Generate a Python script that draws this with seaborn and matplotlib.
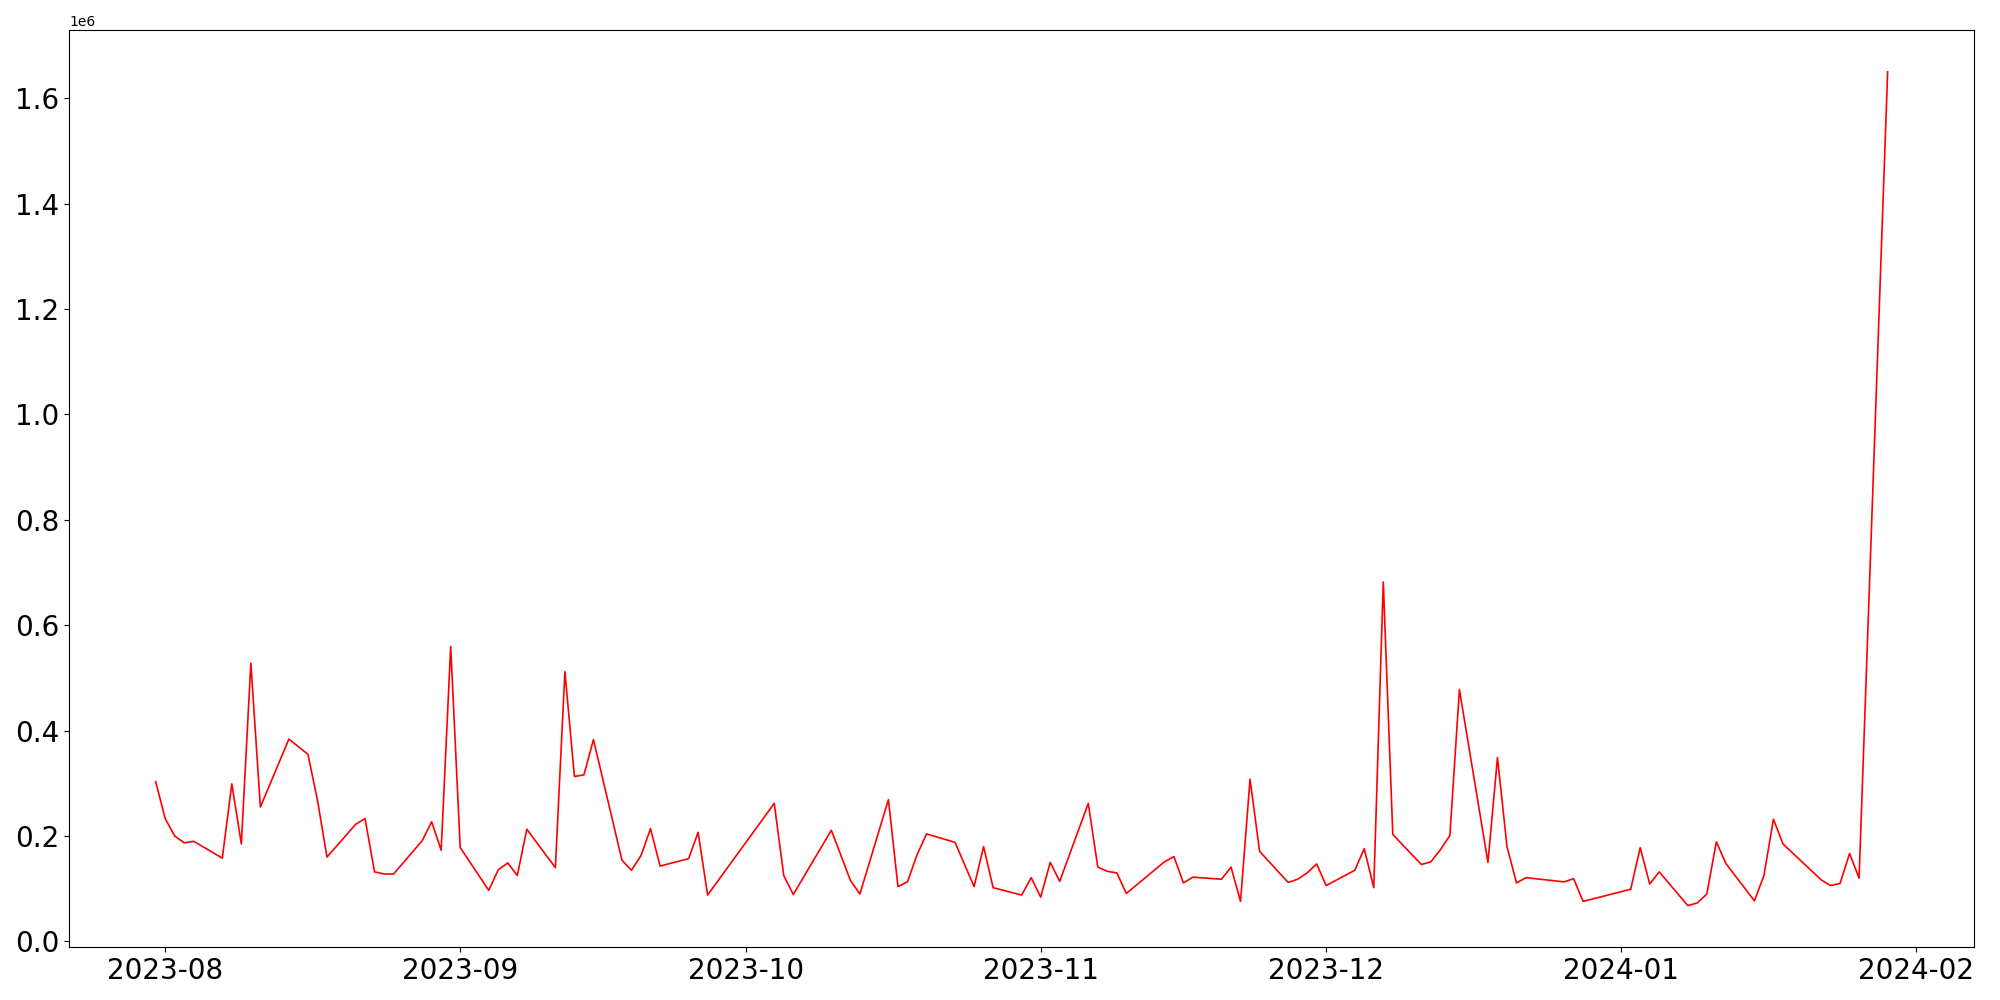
import matplotlib
matplotlib.use('Agg')
import matplotlib.pyplot as plt
import seaborn as sns
import pandas as pd

# trading days and daily totals
dates = [
    '2023-07-31', '2023-08-01', '2023-08-02', '2023-08-03', '2023-08-04',
    '2023-08-07', '2023-08-08', '2023-08-09', '2023-08-10', '2023-08-11',
    '2023-08-14', '2023-08-16', '2023-08-17', '2023-08-18',
    '2023-08-21', '2023-08-22', '2023-08-23', '2023-08-24', '2023-08-25',
    '2023-08-28', '2023-08-29', '2023-08-30', '2023-08-31', '2023-09-01',
    '2023-09-04', '2023-09-05', '2023-09-06', '2023-09-07', '2023-09-08',
    '2023-09-11', '2023-09-12', '2023-09-13', '2023-09-14', '2023-09-15',
    '2023-09-18', '2023-09-19', '2023-09-20', '2023-09-21', '2023-09-22',
    '2023-09-25', '2023-09-26', '2023-09-27',
    '2023-10-04', '2023-10-05', '2023-10-06',
    '2023-10-10', '2023-10-12', '2023-10-13',
    '2023-10-16', '2023-10-17', '2023-10-18', '2023-10-19', '2023-10-20',
    '2023-10-23', '2023-10-25', '2023-10-26', '2023-10-27',
    '2023-10-30', '2023-10-31', '2023-11-01', '2023-11-02', '2023-11-03',
    '2023-11-06', '2023-11-07', '2023-11-08', '2023-11-09', '2023-11-10',
    '2023-11-14', '2023-11-15', '2023-11-16', '2023-11-17',
    '2023-11-20', '2023-11-21', '2023-11-22', '2023-11-23', '2023-11-24',
    '2023-11-27', '2023-11-28', '2023-11-29', '2023-11-30', '2023-12-01',
    '2023-12-04', '2023-12-05', '2023-12-06', '2023-12-07', '2023-12-08',
    '2023-12-11', '2023-12-12', '2023-12-13', '2023-12-14', '2023-12-15',
    '2023-12-18', '2023-12-19', '2023-12-20', '2023-12-21', '2023-12-22',
    '2023-12-26', '2023-12-27', '2023-12-28',
    '2024-01-02', '2024-01-03', '2024-01-04', '2024-01-05',
    '2024-01-08', '2024-01-09', '2024-01-10', '2024-01-11', '2024-01-12',
    '2024-01-15', '2024-01-16', '2024-01-17', '2024-01-18',
    '2024-01-22', '2024-01-23', '2024-01-24', '2024-01-25', '2024-01-26',
    '2024-01-29',
]

values = [
    303000, 233000, 200000, 187000, 190000,
    158000, 299000, 185000, 528000, 255000,
    384000, 355000, 268000, 160000,
    222000, 233000, 132000, 128000, 128000,
    191000, 227000, 173000, 560000, 178000,
    97000, 136000, 149000, 125000, 213000,
    140000, 512000, 313000, 316000, 383000,
    154000, 135000, 163000, 214000, 143000,
    157000, 207000, 88000,
    262000, 125000, 89000,
    211000, 116000, 90000,
    269000, 104000, 113000, 164000, 204000,
    188000, 104000, 180000, 102000,
    88000, 121000, 84000, 150000, 114000,
    262000, 141000, 133000, 130000, 91000,
    151000, 161000, 111000, 122000,
    118000, 141000, 76000, 308000, 171000,
    112000, 118000, 130000, 147000, 106000,
    135000, 176000, 102000, 682000, 203000,
    146000, 151000, 174000, 201000, 478000,
    150000, 349000, 180000, 111000, 121000,
    113000, 119000, 76000,
    99000, 178000, 109000, 132000,
    68000, 73000, 90000, 189000, 148000,
    77000, 125000, 232000, 185000,
    117000, 106000, 110000, 167000, 120000,
    1650000,
]

df = pd.DataFrame({'date': pd.to_datetime(dates), 'value': values})

plt.figure(figsize=(20, 10), dpi=100)
ax = sns.lineplot(data=df, x='date', y='value', color='red', linewidth=1.2)
ax.set_xlabel('')
ax.set_ylabel('')
plt.xticks(fontsize=20)
plt.yticks(fontsize=20)
plt.tight_layout()
plt.savefig('out.png', dpi=100)
